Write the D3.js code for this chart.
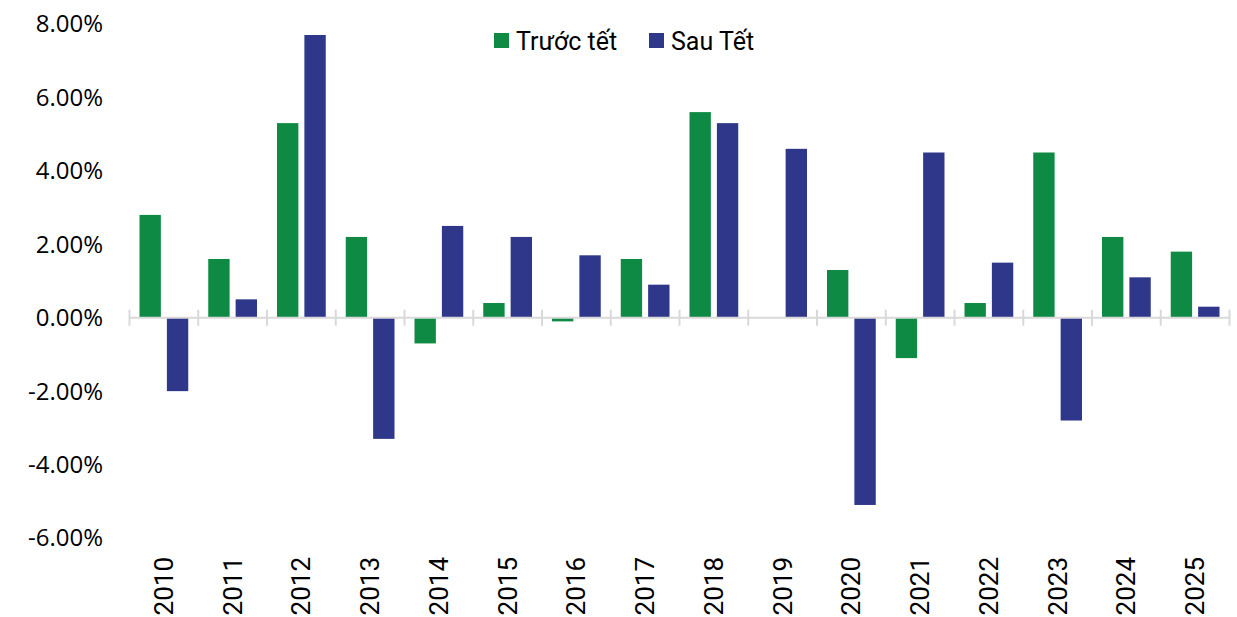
<!DOCTYPE html>
<html>
<head>
<meta charset="utf-8">
<script src="https://cdn.jsdelivr.net/npm/d3@7"></script>
<style>
  body { margin: 0; background: #fff; }
  svg { display: block; }
</style>
</head>
<body>
<svg id="chart" width="1237" height="617"></svg>
<script>
var years = ["2010","2011","2012","2013","2014","2015","2016","2017","2018","2019","2020","2021","2022","2023","2024","2025"];
var truocTet = [2.8, 1.6, 5.3, 2.2, -0.7, 0.4, -0.1, 1.6, 5.6, 0, 1.3, -1.1, 0.4, 4.5, 2.2, 1.8];
var sauTet = [-2.0, 0.5, 7.7, -3.3, 2.5, 2.2, 1.7, 0.9, 5.3, 4.6, -5.1, 4.5, 1.5, -2.8, 1.1, 0.3];
var yTicks = [8, 6, 4, 2, 0, -2, -4, -6];
var seriesNames = ["Trước tết", "Sau Tết"];
var colors = ["#0e8a45", "#2e3789"];

var svg = d3.select("#chart");

var x = d3.scaleBand()
  .domain(years)
  .range([129.5, 1229.5]);

var x1 = d3.scaleBand()
  .domain([0, 1])
  .range([10, x.bandwidth() - 10])
  .paddingInner(0.22);

var y = d3.scaleLinear()
  .domain([-6, 8])
  .range([538, 24]);

// y labels
svg.selectAll("text.ylab")
  .data(yTicks)
  .enter()
  .append("text")
  .attr("class", "ylab")
  .attr("x", 103)
  .attr("y", function(d) { return y(d); })
  .attr("dy", "0.35em")
  .attr("text-anchor", "end")
  .style("font-family", "'Open Sans', 'Noto Sans', sans-serif")
  .style("font-size", "24px")
  .style("fill", "#000")
  .text(function(d) { return d.toFixed(2) + "%"; });

// bars
var groups = svg.selectAll("g.year")
  .data(years)
  .enter()
  .append("g")
  .attr("class", "year")
  .attr("transform", function(d) { return "translate(" + x(d) + ",0)"; });

groups.selectAll("rect")
  .data(function(d, i) { return [truocTet[i], sauTet[i]]; })
  .enter()
  .append("rect")
  .attr("x", function(d, j) { return x1(j); })
  .attr("width", x1.bandwidth())
  .attr("y", function(d) { return y(Math.max(0, d)); })
  .attr("height", function(d) { return Math.abs(y(d) - y(0)); })
  .style("fill", function(d, j) { return colors[j]; });

// zero axis line with category ticks
svg.append("line")
  .attr("x1", 129.5).attr("x2", 1229.5)
  .attr("y1", y(0)).attr("y2", y(0))
  .style("stroke", "#d9d9d9")
  .style("stroke-width", 2);

var tickPos = years.map(function(d) { return x(d); }).concat([x.range()[1]]);
svg.selectAll("line.xtick")
  .data(tickPos)
  .enter()
  .append("line")
  .attr("class", "xtick")
  .attr("x1", function(d) { return d; })
  .attr("x2", function(d) { return d; })
  .attr("y1", y(0) - 8)
  .attr("y2", y(0) + 8)
  .style("stroke", "#d9d9d9")
  .style("stroke-width", 2);

// year labels
svg.selectAll("text.xlab")
  .data(years)
  .enter()
  .append("text")
  .attr("class", "xlab")
  .attr("transform", function(d) {
    return "translate(" + (x(d) + x.bandwidth() / 2) + ",557) rotate(-90)";
  })
  .attr("dy", "0.35em")
  .attr("text-anchor", "end")
  .style("font-family", "Roboto, 'Liberation Sans', sans-serif")
  .style("font-size", "26px")
  .style("fill", "#000")
  .text(function(d) { return d; });

// legend
var legendX = [494, 649];
var legend = svg.selectAll("g.legend")
  .data(seriesNames)
  .enter()
  .append("g")
  .attr("class", "legend")
  .attr("transform", function(d, i) { return "translate(" + legendX[i] + ",33)"; });

legend.append("rect")
  .attr("width", 15)
  .attr("height", 15)
  .style("fill", function(d, i) { return colors[i]; });

legend.append("text")
  .attr("x", 22)
  .attr("y", 8)
  .attr("dy", "0.35em")
  .style("font-family", "Roboto, sans-serif")
  .style("font-size", "25px")
  .style("fill", "#000")
  .text(function(d) { return d; });
</script>
</body>
</html>
